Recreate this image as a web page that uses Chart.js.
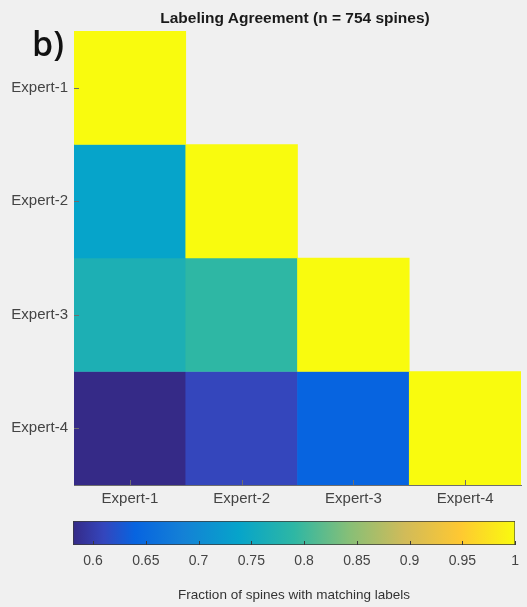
<!DOCTYPE html>
<html>
<head>
<meta charset="utf-8">
<script src="https://cdn.jsdelivr.net/npm/chart.js@4.4.1/dist/chart.umd.min.js"></script>
<style>
  html, body { margin: 0; padding: 0; background: #f0f0f0; }
  #wrap { position: relative; width: 527px; height: 607px; overflow: hidden; }
  #heat { position: absolute; left: 0; top: 0; }
  #bar { position: absolute; left: 0; top: 505px; }
  .panel { position: absolute; left: 32px; top: 23px; font: 600 34px "Open Sans", "Noto Sans", sans-serif; color: #111; line-height: 40px; }
  .title { position: absolute; left: 295px; top: 8px; transform: translateX(-50%); white-space: nowrap;
           font: bold 15.5px "Liberation Sans", Arial, sans-serif; color: #1a1a1a; line-height: 20px; }
</style>
</head>
<body>
<div id="wrap">
  <canvas id="heat" width="527" height="520"></canvas>
  <canvas id="bar" width="527" height="102"></canvas>
  <div class="panel">b)</div>
  <div class="title">Labeling Agreement (n = 754 spines)</div>
</div>
<script>
const experts = ["Expert-1", "Expert-2", "Expert-3", "Expert-4"];

// lower triangle of pairwise agreement, row i = expert i vs experts 1..i
const agreement = [
  [1.0],
  [0.738, 1.0],
  [0.768, 0.79, 1.0],
  [0.581, 0.61, 0.64, 1.0],
];

const colorMin = 0.581;
const colorMax = 1.0;
const colorbarTicks = [0.6, 0.65, 0.7, 0.75, 0.8, 0.85, 0.9, 0.95, 1];

// parula-like colormap anchors: [position, colour]
const parula = [
  [0, "#352a87"],
  [0.07, "#3446bd"],
  [0.14, "#0764e0"],
  [0.25, "#1481d6"],
  [0.375, "#06a4ca"],
  [0.5, "#2eb7a4"],
  [0.625, "#87bf77"],
  [0.75, "#d1bb59"],
  [0.875, "#fec832"],
  [1, "#f9fb0e"],
];

function hexToRgb(h) {
  const n = parseInt(h.slice(1), 16);
  return [(n >> 16) & 255, (n >> 8) & 255, n & 255];
}

function colormap(v) {
  let t = (v - colorMin) / (colorMax - colorMin);
  t = Math.max(0, Math.min(1, t));
  let i = 0;
  while (i < parula.length - 2 && t > parula[i + 1][0]) i++;
  const [p0, c0] = parula[i];
  const [p1, c1] = parula[i + 1];
  const f = (t - p0) / (p1 - p0);
  const a = hexToRgb(c0);
  const b = hexToRgb(c1);
  const c = a.map((x, k) => Math.round(x + (b[k] - x) * f));
  return `rgb(${c[0]},${c[1]},${c[2]})`;
}

const tickFont = { family: "'Liberation Sans', Arial, sans-serif", size: 15 };
const textColor = "#444";
const axisColor = "#6e6e6e";

// matlab style ticks that point into the axes
const inwardTicks = {
  id: "inwardTicks",
  afterDatasetsDraw(chart, _args, opts) {
    const { ctx, chartArea } = chart;
    ctx.save();
    ctx.strokeStyle = opts.color || axisColor;
    ctx.lineWidth = 1;
    const len = opts.length || 5;
    const xs = chart.scales.x;
    if (xs && xs.options.display !== false) {
      xs.ticks.forEach((_t, i) => {
        const px = Math.round(xs.getPixelForTick(i)) + 0.5;
        ctx.beginPath();
        ctx.moveTo(px, chartArea.bottom);
        ctx.lineTo(px, chartArea.bottom - len);
        ctx.stroke();
      });
    }
    const ys = chart.scales.y;
    if (ys && ys.options.display !== false) {
      ys.ticks.forEach((_t, i) => {
        const py = Math.round(ys.getPixelForTick(i)) + 0.5;
        ctx.beginPath();
        ctx.moveTo(chartArea.left, py);
        ctx.lineTo(chartArea.left + len, py);
        ctx.stroke();
      });
    }
    ctx.restore();
  },
};

const heatDatasets = agreement.map((row, r) => ({
  label: experts[r],
  data: experts.map((_e, c) => (c < row.length ? [r + 0.5, r + 1.5] : null)),
  backgroundColor: experts.map((_e, c) => (c < row.length ? colormap(row[c]) : "rgba(0,0,0,0)")),
  borderWidth: 0,
  grouped: false,
  barPercentage: 1,
  categoryPercentage: 1,
}));

new Chart(document.getElementById("heat"), {
  type: "bar",
  data: { labels: experts, datasets: heatDatasets },
  plugins: [inwardTicks],
  options: {
    responsive: false,
    animation: false,
    layout: { padding: { left: 0, right: 6, top: 31, bottom: 0 } },
    plugins: {
      legend: { display: false },
      tooltip: { enabled: false },
      inwardTicks: { color: axisColor, length: 5 },
    },
    scales: {
      x: {
        grid: { display: false, drawTicks: false },
        border: { display: true, color: axisColor, width: 1 },
        ticks: { font: tickFont, color: textColor, padding: 5, maxRotation: 0, autoSkip: false },
        afterFit(scale) { scale.height = 35; },
      },
      y: {
        type: "linear",
        min: 0.5,
        max: 4.5,
        reverse: true,
        grid: { display: false, drawTicks: false },
        border: { display: true, color: axisColor, width: 1 },
        ticks: {
          font: tickFont,
          color: textColor,
          padding: 6,
          callback: (v) => experts[v - 1],
        },
        afterBuildTicks(scale) {
          scale.ticks = experts.map((_e, i) => ({ value: i + 1 }));
        },
        afterFit(scale) { scale.width = 74; },
      },
    },
  },
});

// colorbar: one floating bar spanning the color range, filled with the colormap
new Chart(document.getElementById("bar"), {
  type: "bar",
  data: {
    labels: [""],
    datasets: [{
      data: [[colorMin, colorMax]],
      backgroundColor(ctx) {
        const chart = ctx.chart;
        if (!chart.chartArea) return null;
        const xs = chart.scales.x;
        const x0 = xs.getPixelForValue(colorMin);
        const x1 = xs.getPixelForValue(colorMax);
        const g = chart.ctx.createLinearGradient(x0, 0, x1, 0);
        parula.forEach(([p, c]) => g.addColorStop(p, c));
        return g;
      },
      borderColor: "#3a3a3a",
      borderWidth: 1,
      borderSkipped: false,
      barPercentage: 1,
      categoryPercentage: 1,
    }],
  },
  plugins: [inwardTicks],
  options: {
    indexAxis: "y",
    responsive: false,
    animation: false,
    layout: { padding: { left: 73, right: 4, top: 16, bottom: 4 } },
    plugins: {
      legend: { display: false },
      tooltip: { enabled: false },
      inwardTicks: { color: "#3a3a3a", length: 4 },
    },
    scales: {
      x: {
        type: "linear",
        min: colorMin,
        max: colorMax,
        grid: { display: false, drawTicks: false },
        border: { display: false },
        ticks: {
          font: { family: tickFont.family, size: 14 },
          color: textColor,
          padding: 8,
          maxRotation: 0,
          autoSkip: false,
          callback: (v) => String(Math.round(v * 100) / 100),
        },
        afterBuildTicks(scale) {
          scale.ticks = colorbarTicks.map((v) => ({ value: v }));
        },
        title: {
          display: true,
          text: "Fraction of spines with matching labels",
          font: { family: tickFont.family, size: 13.5 },
          color: "#333",
          padding: { top: 0, bottom: 0 },
        },
        afterFit(scale) { scale.height = 58; },
      },
      y: { display: false },
    },
  },
});
</script>
</body>
</html>
